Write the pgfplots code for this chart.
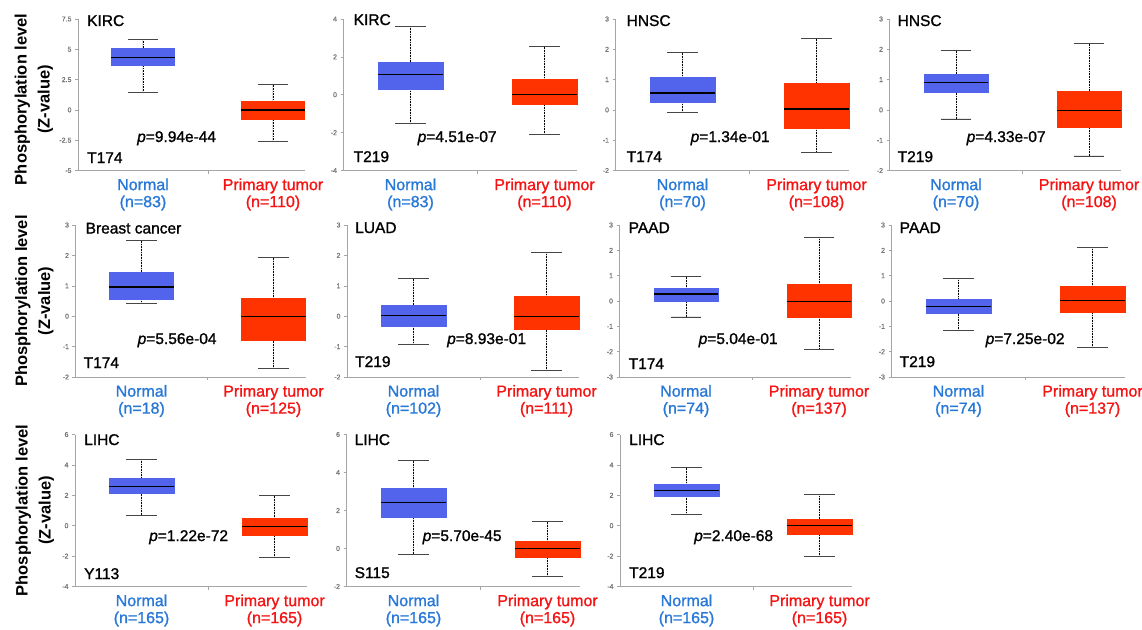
\documentclass[border=0pt]{standalone}
\usepackage{fontspec}
\setmainfont{Liberation Sans}[UprightFeatures={RawFeature={embolden=1.2}},ItalicFeatures={RawFeature={embolden=1.2}}]
\usepackage{pgfplots}
\pgfplotsset{compat=1.18}
\usepgfplotslibrary{statistics}
\definecolor{boxblue}{RGB}{82,100,235}
\definecolor{boxred}{RGB}{255,51,0}
\definecolor{txtblue}{RGB}{40,120,215}
\definecolor{txtred}{RGB}{245,20,20}
\definecolor{axisgray}{RGB}{165,165,165}
\definecolor{tickgray}{RGB}{120,120,120}
\definecolor{capgray}{RGB}{70,70,70}
\newcommand{\ann}{\fontsize{15.5}{17}\selectfont}
\newcommand{\notes}[9]{%
  \node[anchor=base west,inner sep=0pt,font=\ann,xshift=#2pt,yshift=#3pt] at (rel axis cs:0,1) {#1};
  \node[anchor=base west,inner sep=0pt,font=\ann,xshift=#5pt,yshift=#6pt] at (rel axis cs:0,0) {#4};
  \node[anchor=base west,inner sep=0pt,font=\ann,xshift=#8pt,yshift=#9pt] at (rel axis cs:0,0) {\textit{p}=#7};
}
\pgfplotsset{
  boxplot/draw/lower whisker/.code={%
    \draw[black, densely dotted, line width=0.6pt]
      (boxplot cs:\pgfplotsboxplotvalue{lower whisker}) -- (boxplot cs:\pgfplotsboxplotvalue{lower quartile});
    \draw[capgray, line width=0.9pt]
      (boxplot whisker cs:\pgfplotsboxplotvalue{lower whisker},0) -- (boxplot whisker cs:\pgfplotsboxplotvalue{lower whisker},1);
  },
  boxplot/draw/upper whisker/.code={%
    \draw[black, densely dotted, line width=0.6pt]
      (boxplot cs:\pgfplotsboxplotvalue{upper whisker}) -- (boxplot cs:\pgfplotsboxplotvalue{upper quartile});
    \draw[capgray, line width=0.9pt]
      (boxplot whisker cs:\pgfplotsboxplotvalue{upper whisker},0) -- (boxplot whisker cs:\pgfplotsboxplotvalue{upper whisker},1);
  },
  boxplot/every median/.style={draw=black, line width=1.2pt},
  panel/.style={
    scale only axis, anchor=south west, clip=false,
    xmin=0.5, xmax=2.2425,
    axis x line*=bottom, axis y line*=left,
    axis line style={draw=axisgray, line width=0.8pt},
    tick align=outside, major tick length=3pt,
    tick style={draw=axisgray, line width=0.6pt},
    yticklabel style={font=\fontsize{7}{8}\selectfont, text=tickgray},
    /pgf/number format/assume math mode=true,
    xtick={1,2},
    xtick style={draw=none},
    xticklabel style={align=center, font=\fontsize{16}{17}\selectfont, yshift=-1.5pt},
    extra x ticks={1.5}, extra x tick labels={},
    extra x tick style={xtick style={draw=axisgray}},
  },
  ylab/.style 2 args={
    ylabel={Phosphorylation level\\(Z-value)},
    every axis y label/.style={at={(axis description cs:#1,#2)}, rotate=90, anchor=center, align=center, font=\bfseries\fontsize{16.5}{23}\selectfont},
  },
  nb/.style={boxplot prepared={draw direction=y, draw position=1, box extend=0.485, whisker extend=0.23, #1}, draw=boxblue, fill=boxblue},
  tb/.style={boxplot prepared={draw direction=y, draw position=2, box extend=0.485, whisker extend=0.23, #1}, draw=boxred, fill=boxred},
}
\begin{document}
\begin{tikzpicture}
\path[use as bounding box] (0,0) rectangle (1142pt,-629pt);
% ---------- Row 1 ----------
\begin{axis}[panel, ylab={-0.195}{0.47}, at={(78pt,-170.5pt)}, width=226.5pt, height=151.5pt,
  ymin=-5, ymax=7.5, ytick={-5,-2.5,0,2.5,5,7.5},
  xticklabels={{\textcolor{txtblue}{Normal}\\\textcolor{txtblue}{(n=83)}},{\textcolor{txtred}{Primary tumor}\\\textcolor{txtred}{(n=110)}}}]
\addplot[nb={lower whisker=1.43, lower quartile=3.69, median=4.33, upper quartile=5.07, upper whisker=5.84}] coordinates {};
\addplot[tb={lower whisker=-2.6, lower quartile=-0.78, median=0.0, upper quartile=0.71, upper whisker=2.09}] coordinates {};
\notes{KIRC}{9}{-7}{T174}{9}{7.5}{9.94e-44}{59}{28.5}
\end{axis}
\begin{axis}[panel, at={(343.5pt,-170.5pt)}, width=233.5pt, height=151.5pt,
  ymin=-4, ymax=4, ytick={-4,-2,0,2,4},
  xticklabels={{\textcolor{txtblue}{Normal}\\\textcolor{txtblue}{(n=83)}},{\textcolor{txtred}{Primary tumor}\\\textcolor{txtred}{(n=110)}}}]
\addplot[nb={lower whisker=-1.52, lower quartile=0.29, median=1.08, upper quartile=1.72, upper whisker=3.63}] coordinates {};
\addplot[tb={lower whisker=-2.1, lower quartile=-0.48, median=0.01, upper quartile=0.82, upper whisker=2.54}] coordinates {};
\notes{KIRC}{10}{-6}{T219}{10}{8.5}{4.51e-07}{74}{28.5}
\end{axis}
\begin{axis}[panel, at={(615.5pt,-170.5pt)}, width=233.5pt, height=151.5pt,
  ymin=-2, ymax=3, ytick={-2,-1,0,1,2,3},
  xticklabels={{\textcolor{txtblue}{Normal}\\\textcolor{txtblue}{(n=70)}},{\textcolor{txtred}{Primary tumor}\\\textcolor{txtred}{(n=108)}}}]
\addplot[nb={lower whisker=-0.09, lower quartile=0.26, median=0.56, upper quartile=1.07, upper whisker=1.89}] coordinates {};
\addplot[tb={lower whisker=-1.42, lower quartile=-0.59, median=0.03, upper quartile=0.87, upper whisker=2.35}] coordinates {};
\notes{HNSC}{11}{-7}{T174}{11}{8.5}{1.34e-01}{75}{28.5}
\end{axis}
\begin{axis}[panel, at={(889.5pt,-170.5pt)}, width=231.8pt, height=151.5pt,
  ymin=-2, ymax=3, ytick={-2,-1,0,1,2,3},
  xticklabels={{\textcolor{txtblue}{Normal}\\\textcolor{txtblue}{(n=70)}},{\textcolor{txtred}{Primary tumor}\\\textcolor{txtred}{(n=108)}}}]
\addplot[nb={lower whisker=-0.30, lower quartile=0.57, median=0.91, upper quartile=1.19, upper whisker=1.95}] coordinates {};
\addplot[tb={lower whisker=-1.52, lower quartile=-0.58, median=-0.02, upper quartile=0.63, upper whisker=2.18}] coordinates {};
\notes{HNSC}{8}{-7}{T219}{8}{8.5}{4.33e-07}{77}{28.5}
\end{axis}
% ---------- Row 2 ----------
\begin{axis}[panel, ylab={-0.179}{0.5}, at={(75.5pt,-377pt)}, width=230pt, height=152pt,
  ymin=-2, ymax=3, ytick={-2,-1,0,1,2,3},
  xticklabels={{\textcolor{txtblue}{Normal}\\\textcolor{txtblue}{(n=18)}},{\textcolor{txtred}{Primary tumor}\\\textcolor{txtred}{(n=125)}}}]
\addplot[nb={lower whisker=0.43, lower quartile=0.57, median=0.96, upper quartile=1.45, upper whisker=2.48}] coordinates {};
\addplot[tb={lower whisker=-1.72, lower quartile=-0.80, median=-0.02, upper quartile=0.59, upper whisker=1.92}] coordinates {};
\notes{Breast cancer}{10}{-8.5}{T174}{8}{9}{5.56e-04}{62}{33}
\end{axis}
\begin{axis}[panel, at={(347pt,-377pt)}, width=231.8pt, height=152pt,
  ymin=-2, ymax=3, ytick={-2,-1,0,1,2,3},
  xticklabels={{\textcolor{txtblue}{Normal}\\\textcolor{txtblue}{(n=102)}},{\textcolor{txtred}{Primary tumor}\\\textcolor{txtred}{(n=111)}}}]
\addplot[nb={lower whisker=-0.92, lower quartile=-0.33, median=0.03, upper quartile=0.36, upper whisker=1.23}] coordinates {};
\addplot[tb={lower whisker=-1.78, lower quartile=-0.42, median=0.0, upper quartile=0.65, upper whisker=2.10}] coordinates {};
\notes{LUAD}{8}{-8}{T219}{8}{10}{8.93e-01}{100}{33}
\end{axis}
\begin{axis}[panel, at={(619.5pt,-377pt)}, width=231.8pt, height=152pt,
  ymin=-3, ymax=3, ytick={-3,-2,-1,0,1,2,3},
  xticklabels={{\textcolor{txtblue}{Normal}\\\textcolor{txtblue}{(n=74)}},{\textcolor{txtred}{Primary tumor}\\\textcolor{txtred}{(n=137)}}}]
\addplot[nb={lower whisker=-0.63, lower quartile=-0.01, median=0.28, upper quartile=0.49, upper whisker=0.96}] coordinates {};
\addplot[tb={lower whisker=-1.93, lower quartile=-0.63, median=-0.01, upper quartile=0.66, upper whisker=2.51}] coordinates {};
\notes{PAAD}{9}{-8}{T174}{9}{8}{5.04e-01}{79}{33}
\end{axis}
\begin{axis}[panel, at={(891.5pt,-377pt)}, width=233.5pt, height=152pt,
  ymin=-3, ymax=3, ytick={-3,-2,-1,0,1,2,3},
  xticklabels={{\textcolor{txtblue}{Normal}\\\textcolor{txtblue}{(n=74)}},{\textcolor{txtred}{Primary tumor}\\\textcolor{txtred}{(n=137)}}}]
\addplot[nb={lower whisker=-1.16, lower quartile=-0.50, median=-0.22, upper quartile=0.08, upper whisker=0.89}] coordinates {};
\addplot[tb={lower whisker=-1.84, lower quartile=-0.44, median=0.01, upper quartile=0.59, upper whisker=2.12}] coordinates {};
\notes{PAAD}{8}{-8}{T219}{8}{10}{7.25e-02}{94}{33}
\end{axis}
% ---------- Row 3 ----------
\begin{axis}[panel, ylab={-0.173}{0.5}, at={(75pt,-586.5pt)}, width=231.8pt, height=152pt,
  ymin=-4, ymax=6, ytick={-4,-2,0,2,4,6},
  xticklabels={{\textcolor{txtblue}{Normal}\\\textcolor{txtblue}{(n=165)}},{\textcolor{txtred}{Primary tumor}\\\textcolor{txtred}{(n=165)}}}]
\addplot[nb={lower whisker=0.70, lower quartile=2.11, median=2.59, upper quartile=3.14, upper whisker=4.37}] coordinates {};
\addplot[tb={lower whisker=-2.09, lower quartile=-0.64, median=-0.04, upper quartile=0.48, upper whisker=1.98}] coordinates {};
\notes{LIHC}{9}{-10.5}{Y113}{9}{7.5}{1.22e-72}{74}{45.5}
\end{axis}
\begin{axis}[panel, at={(346.5pt,-586.5pt)}, width=233.5pt, height=152pt,
  ymin=-2, ymax=6, ytick={-2,0,2,4,6},
  xticklabels={{\textcolor{txtblue}{Normal}\\\textcolor{txtblue}{(n=165)}},{\textcolor{txtred}{Primary tumor}\\\textcolor{txtred}{(n=165)}}}]
\addplot[nb={lower whisker=-0.29, lower quartile=1.67, median=2.41, upper quartile=3.15, upper whisker=4.63}] coordinates {};
\addplot[tb={lower whisker=-1.47, lower quartile=-0.47, median=-0.01, upper quartile=0.40, upper whisker=1.42}] coordinates {};
\notes{LIHC}{8}{-10.5}{S115}{8}{8.5}{5.70e-45}{76}{45.5}
\end{axis}
\begin{axis}[panel, at={(620pt,-586.5pt)}, width=231.8pt, height=152pt,
  ymin=-4, ymax=6, ytick={-4,-2,0,2,4,6},
  xticklabels={{\textcolor{txtblue}{Normal}\\\textcolor{txtblue}{(n=165)}},{\textcolor{txtred}{Primary tumor}\\\textcolor{txtred}{(n=165)}}}]
\addplot[nb={lower whisker=0.76, lower quartile=1.93, median=2.34, upper quartile=2.76, upper whisker=3.82}] coordinates {};
\addplot[tb={lower whisker=-2.02, lower quartile=-0.56, median=-0.01, upper quartile=0.43, upper whisker=2.06}] coordinates {};
\notes{LIHC}{9}{-10.5}{T219}{9}{8.5}{2.40e-68}{74}{45.5}
\end{axis}
\end{tikzpicture}
\end{document}
